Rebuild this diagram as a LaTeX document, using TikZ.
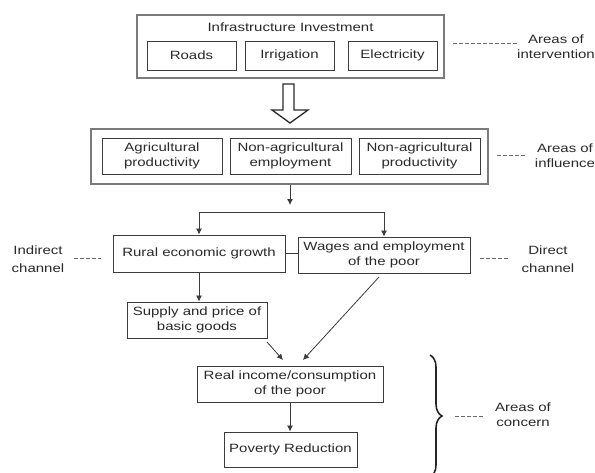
\documentclass[tikz,border=0pt]{standalone}
\usepackage{fontspec}
\setmainfont{Liberation Sans}[FakeStretch=1.25]
\usetikzlibrary{arrows.meta,calc,decorations.pathreplacing}
\definecolor{inkc}{HTML}{2A2A2A}
\definecolor{boxc}{HTML}{3C3C3C}
\definecolor{outc}{HTML}{7A7A7A}
\begin{document}
\begin{tikzpicture}[x=1pt,y=-1pt,
  every node/.style={text=inkc,font=\fontsize{12}{15.5}\selectfont,align=center,inner sep=0pt},
  inbox/.style={draw=boxc,line width=0.9pt,minimum height=36pt},
  outbox/.style={draw=outc,line width=1.3pt},
  arr/.style={draw=boxc,line width=0.8pt,-{Latex[length=6pt,width=6pt]}},
  conn/.style={draw=boxc,line width=0.8pt},
  dashline/.style={draw=inkc!70,line width=0.7pt,dash pattern=on 4pt off 2pt},
  side/.style={font=\fontsize{12}{15}\selectfont},
  chan/.style={font=\fontsize{12}{18}\selectfont}]
\useasboundingbox (0,0) rectangle (595,472);
\fill[white] (0,0) rectangle (595,472);

% top block
\node[outbox,minimum width=307pt,minimum height=63pt] (inv) at (290.5,46.5) {};
\node (invt) at (290.5,27) {Infrastructure Investment};
\node[inbox,minimum width=89pt,minimum height=29pt] (roads) at (191.5,55.5) {Roads};
\node[inbox,minimum width=89pt,minimum height=29pt] (irrig) at (289.5,55.5) {Irrigation};
\node[inbox,minimum width=89pt,minimum height=29pt] (elec) at (392.5,55.5) {Electricity};

% hollow arrow
\draw[draw=inkc,line width=1.3pt,line join=miter,fill=white]
  (283,84) -- (294,84) -- (294,110) -- (308,110) -- (290,123) -- (272,110) -- (283,110) -- cycle;

% second block
\node[outbox,minimum width=397pt,minimum height=55pt] (infl) at (289.5,156.5) {};
\node[inbox,minimum width=120pt] (agri) at (162,156) {Agricultural\\productivity};
\node[inbox,minimum width=121pt] (nae) at (290.5,156) {Non-agricultural\\employment};
\node[inbox,minimum width=121pt] (nap) at (419.5,156) {Non-agricultural\\productivity};

% branch
\coordinate (tipA) at (290,205);
\coordinate (brL) at (199,212);
\coordinate (brR) at (384,212);
\draw[arr] (infl.south -| tipA) -- (tipA);
\draw[conn] (brL) -- (brR);

% channels
\node[inbox,minimum width=172pt,minimum height=37pt] (rural) at (199,253.5) {Rural economic growth};
\node[inbox,minimum width=172pt,minimum height=36pt] (wages) at (384,255) {Wages and employment\\of the poor};
\draw[arr] (brL) -- (brL |- rural.north);
\draw[arr] (brR) -- (brR |- wages.north);
\draw[conn] (rural.east) -- (rural.east -| wages.west);

\node[inbox,minimum width=140pt] (supply) at (197,320) {Supply and price of\\basic goods};
\draw[arr] (rural.south) -- (rural.south |- supply.north);

\node[inbox,minimum width=186pt] (real) at (290,384) {Real income/consumption\\of the poor};
\node[inbox,minimum width=133pt,minimum height=35pt] (pov) at (290.5,449.5) {Poverty Reduction};

\coordinate (s1) at (267,342);
\coordinate (s2) at (283,360);
\coordinate (w1) at (379,277);
\coordinate (w2) at (303,360);
\draw[arr] (s1) -- (s2);
\draw[arr] (w1) -- (w2);
\draw[arr] (real.south) -- (real.south |- pov.north);

% side labels
\coordinate (d1a) at (453,43); \coordinate (d1b) at (517,43);
\draw[dashline] (d1a) -- (d1b);
\node[side] (lint) at (556,46.5) {Areas of\\intervention};

\coordinate (d2a) at (497,155); \coordinate (d2b) at (526,155);
\draw[dashline] (d2a) -- (d2b);
\node[side] (linf) at (565,156) {Areas of\\influence};

\coordinate (d3a) at (74,258); \coordinate (d3b) at (101,258);
\draw[dashline] (d3a) -- (d3b);
\node[chan] (lind) at (38,259.5) {Indirect\\channel};

\coordinate (d4a) at (480,258); \coordinate (d4b) at (508,258);
\draw[dashline] (d4a) -- (d4b);
\node[chan] (ldir) at (548,259.5) {Direct\\channel};

% brace
\draw[draw=black!85,line width=1.6pt,decorate,decoration={brace,amplitude=12pt,aspect=0.5}]
  (430,355) -- (430,477);
\coordinate (d5a) at (455,416); \coordinate (d5b) at (483,416);
\draw[dashline] (d5a) -- (d5b);
\node[side] (lcon) at (523,414.5) {Areas of\\concern};
\end{tikzpicture}
\end{document}
